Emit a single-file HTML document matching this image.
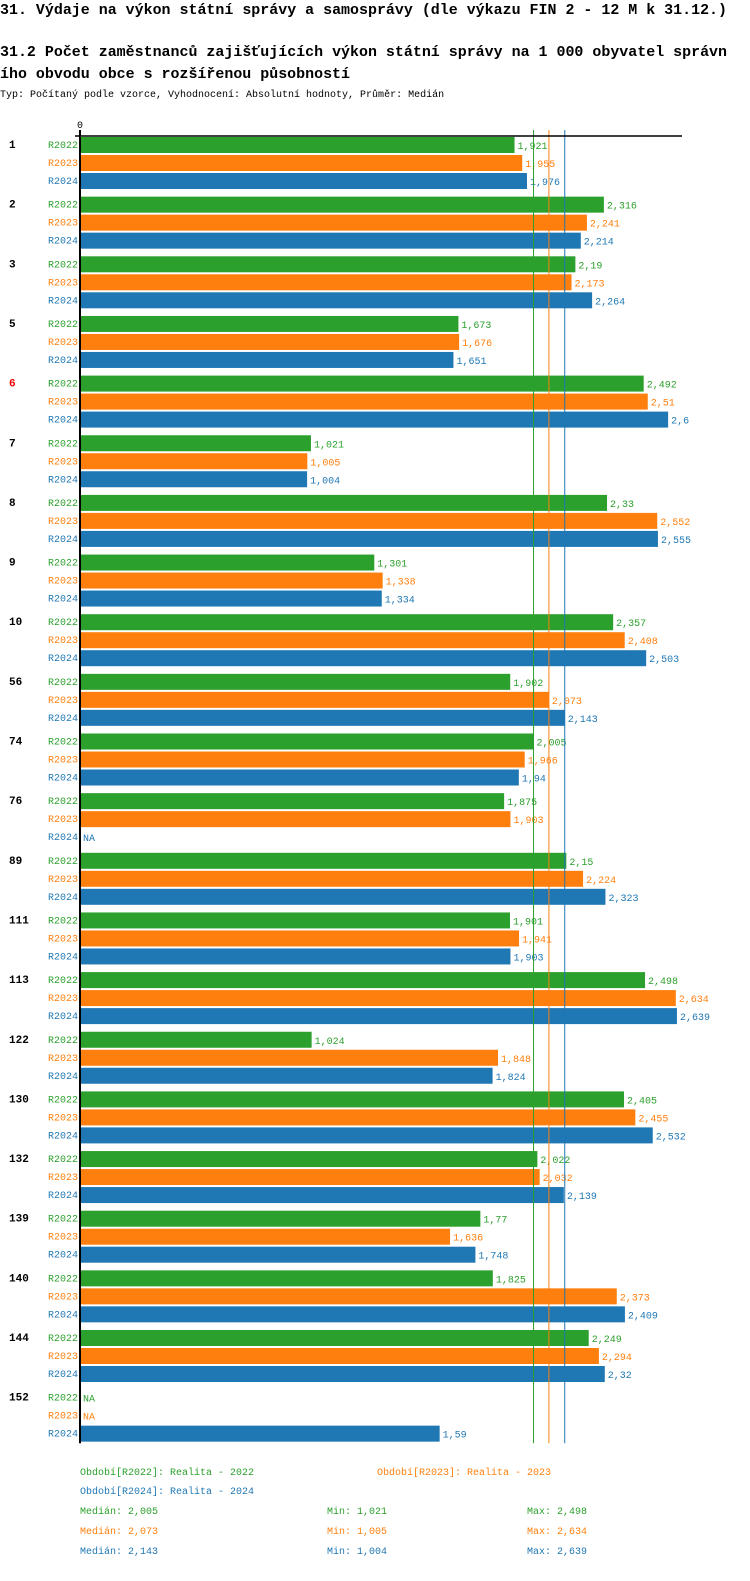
<!DOCTYPE html>
<html><head><meta charset="utf-8"><style>
body{margin:0;background:#fff;width:750px;height:1576px;overflow:hidden;font-family:"Liberation Mono",monospace}
svg text{font-family:"Liberation Mono",monospace}
</style></head><body>
<svg id="c" width="750" height="1576">
<text x="0" y="14" font-size="15" font-weight="bold" textLength="727" lengthAdjust="spacingAndGlyphs">31. Výdaje na výkon státní správy a samosprávy (dle výkazu FIN 2 - 12 M k 31.12.)</text>
<text x="0" y="56" font-size="15" font-weight="bold" textLength="727" lengthAdjust="spacingAndGlyphs">31.2 Počet zaměstnanců zajišťujících výkon státní správy na 1 000 obyvatel správn</text>
<text x="0" y="78" font-size="15" font-weight="bold" textLength="350" lengthAdjust="spacingAndGlyphs">ího obvodu obce s rozšířenou působností</text>
<text x="0" y="97" font-size="10">Typ: Počítaný podle vzorce, Vyhodnocení: Absolutní hodnoty, Průměr: Medián</text>
<text x="80" y="128" font-size="10" text-anchor="middle">0</text>
<g id="g"></g>
</svg>
<script>
const categories=["1","2","3","5","6","7","8","9","10","56","74","76","89","111","113","122","130","132","139","140","144","152"];
const series=["R2022","R2023","R2024"];
const v2022=[1.921,2.316,2.19,1.673,2.492,1.021,2.33,1.301,2.357,1.902,2.005,1.875,2.15,1.901,2.498,1.024,2.405,2.022,1.77,1.825,2.249,null];
const v2023=[1.955,2.241,2.173,1.676,2.51,1.005,2.552,1.338,2.408,2.073,1.966,1.903,2.224,1.941,2.634,1.848,2.455,2.032,1.636,2.373,2.294,null];
const v2024=[1.976,2.214,2.264,1.651,2.6,1.004,2.555,1.334,2.503,2.143,1.94,null,2.323,1.903,2.639,1.824,2.532,2.139,1.748,2.409,2.32,1.59];
const medians=[2.005,2.073,2.143];
const mins=[1.021,1.005,1.004];
const maxs=[2.498,2.634,2.639];
const legendNames=["Realita - 2022","Realita - 2023","Realita - 2024"];
const highlighted="6";
const colors=["#2ca02c","#ff7f0e","#1f77b4"];
const NS="http://www.w3.org/2000/svg";
const g=document.getElementById('g');
const x0=80,k=226.2,top0=137,pitch=59.65;
const xs=v=>x0+v*k;
function mk(t,a,txt){const e=document.createElementNS(NS,t);for(const q in a)e.setAttribute(q,a[q]);if(txt!==undefined)e.textContent=txt;g.appendChild(e);return e;}
const fmt=v=>String(v).replace('.',',');
const vals=[v2022,v2023,v2024];
categories.forEach((c,i)=>{
  const y=top0+i*pitch;
  const t=mk('text',{x:9,y:y+11,'font-size':11,'font-weight':'bold',fill:c===highlighted?'#e00':'#000'},c);
  
  
  series.forEach((s,j)=>{
    const yy=y+j*18,v=vals[j][i];
    const l=mk('text',{x:78,y:yy+11,'font-size':10,'text-anchor':'end',fill:colors[j]},s);
    
    
    if(v!=null){
      const r=mk('rect',{x:x0,y:yy,width:xs(v)-x0,height:16,fill:colors[j]});
      
      
    }
    const vt=mk('text',{x:(v!=null?xs(v):x0)+3,y:yy+12,'font-size':10,fill:colors[j]},v!=null?fmt(v):'NA');
    
    
  });
});
const yEnd=top0+categories.length*pitch-6;
medians.forEach((m,j)=>{
  const l=mk('line',{x1:xs(m),x2:xs(m),y1:130,y2:yEnd,stroke:colors[j],'stroke-width':1});
  
  
});
const ax=mk('line',{x1:x0,x2:x0,y1:130,y2:yEnd,stroke:'#000','stroke-width':2});


const hx=mk('line',{x1:75,x2:682,y1:136,y2:136,stroke:'#000','stroke-width':1.5});


const lp=[[80,1475],[377,1475],[80,1494]];
series.forEach((s,j)=>{
  const e=mk('text',{x:lp[j][0],y:lp[j][1],'font-size':10,fill:colors[j]},'Období['+s+']: '+legendNames[j]);
  
  
  const y=1514+j*20;
  const a=mk('text',{x:80,y:y,'font-size':10,fill:colors[j]},'Medián: '+fmt(medians[j]));
  
  
  const b=mk('text',{x:327,y:y,'font-size':10,fill:colors[j]},'Min: '+fmt(mins[j]));
  
  
  const d=mk('text',{x:527,y:y,'font-size':10,fill:colors[j]},'Max: '+fmt(maxs[j]));
  
  
});
</script>
</body></html>
